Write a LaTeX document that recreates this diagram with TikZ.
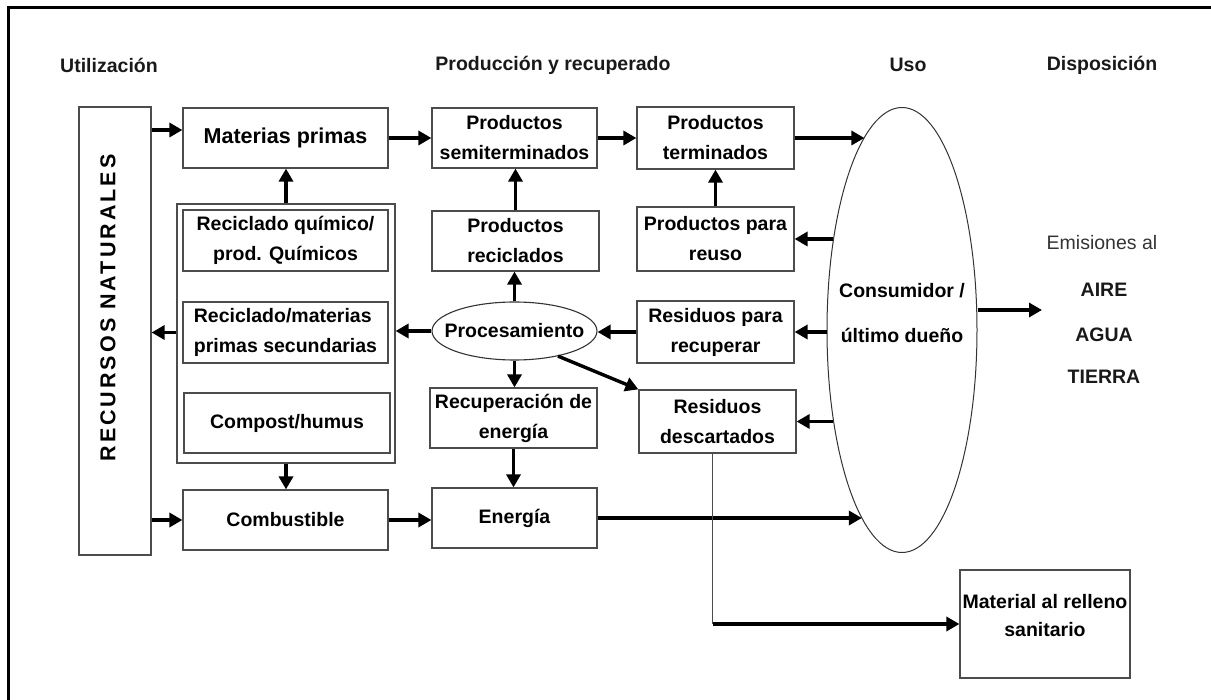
\documentclass[tikz,border=0pt]{standalone}
\usepackage{fontspec}
\setmainfont{Liberation Sans}
\newfontfamily\espaciada[LetterSpace=14]{Liberation Sans}
\usetikzlibrary{arrows.meta,shapes.geometric}

\begin{document}
\begin{tikzpicture}[x=1pt,y=-1pt,
    caja/.style={draw=black!70,line width=1.2pt,align=center,inner sep=1pt,
      font=\fontsize{19.5}{30}\selectfont\bfseries,text=black},
    titulo/.style={font=\fontsize{19.5}{24}\selectfont\bfseries,text=black!90},
    flecha/.style={line width=3.4pt,-{Triangle[length=13pt,width=14pt]}}]
    \useasboundingbox (0,0) rectangle (1211,700);
    \begin{scope}
        \clip (0,0) rectangle (1211,700);
        \draw[line width=3pt] (8,8) rectangle (1250,740);
    \end{scope}
    % titulos
    \node[titulo] (tutil) at (109,65) {Utilización};
    \node[titulo] (tprod) at (553,65) {Producción y recuperado};
    \node[titulo] (tuso) at (908,65) {Uso};
    \node[titulo] (tdisp) at (1102,65) {Disposición};
    % utilizacion
    \node[caja,minimum width=72pt,minimum height=448pt] (rn) at (115,331) {};
    \node[rotate=90,text=black,font=\espaciada\fontsize{21.5}{24}\selectfont\bfseries] (rntxt) at (108,308) {RECURSOS NATURALES};
    \node[caja,minimum width=205pt,minimum height=60pt,font=\fontsize{21.5}{30}\selectfont\bfseries] (mp) at (285.5,138) {Materias primas};
    \node[caja,minimum width=218pt,minimum height=259pt] (recbox) at (286,333.5) {};
    \node[caja,minimum width=205pt,minimum height=61pt] (rq) at (285.5,240.5) {Reciclado químico/\\prod. Químicos};
    \node[caja,minimum width=205pt,minimum height=61pt,align=left] (rm) at (285.5,332.5) {Reciclado/materias\\primas secundarias};
    \node[caja,minimum width=206pt,minimum height=60pt] (cp) at (287,423) {Compost/humus};
    \node[caja,minimum width=205pt,minimum height=60pt] (cb) at (285.5,520) {Combustible};
    % produccion y recuperado
    \node[caja,minimum width=165pt,minimum height=60pt] (ps) at (514.5,138) {Productos\\semiterminados};
    \node[caja,minimum width=157pt,minimum height=62pt] (pt) at (715.5,138) {Productos\\terminados};
    \node[caja,minimum width=167pt,minimum height=60pt] (prc) at (515.5,241) {Productos\\reciclados};
    \node[caja,minimum width=157pt,minimum height=64pt] (pr) at (715.5,239) {Productos para\\reuso};
    \node[ellipse,draw=black!80,line width=1.1pt,minimum width=165pt,minimum height=58pt,
        label={[font=\fontsize{19.5}{24}\selectfont\bfseries,text=black]center:Procesamiento}] (proc) at (514.5,331) {};
    \node[caja,minimum width=157pt,minimum height=62pt] (rr) at (715.5,332) {Residuos para\\recuperar};
    \node[caja,minimum width=167pt,minimum height=60pt] (re) at (513.5,418) {Recuperación de\\energía};
    \node[caja,minimum width=157pt,minimum height=63pt] (rd) at (717.5,421.5) {Residuos\\descartados};
    \node[caja,minimum width=165pt,minimum height=60pt] (en) at (514.5,518) {Energía};
    % uso y disposicion
    \node[ellipse,draw=black!80,line width=1pt,minimum width=150pt,minimum height=445pt,
        label={[yshift=17pt,align=center,font=\fontsize{19.5}{45}\selectfont\bfseries,text=black]center:Consumidor /\\último dueño}] (cons) at (902,330) {};
    \node[text=black!80,font=\fontsize{19.5}{24}\selectfont] (emi) at (1102,243) {Emisiones al};
    \node[titulo] (aire) at (1104,290) {AIRE};
    \node[titulo] (agua) at (1104,335) {AGUA};
    \node[titulo] (tierra) at (1104,377) {TIERRA};
    \coordinate (emifin) at (1042,310);
    \node[caja,minimum width=170pt,minimum height=108pt,
        label={[yshift=8pt,align=center,font=\fontsize{19.5}{28}\selectfont\bfseries,text=black]center:Material al relleno\\sanitario}] (mat) at (1045,624) {};
    % flechas
    \draw[flecha] ([yshift=8pt]mp.west -| rn.east) -- ([yshift=8pt]mp.west);
    \draw[flecha] (mp.east) -- (ps.west);
    \draw[flecha] (ps.east) -- (pt.west);
    \draw[flecha] (pt.east) -- (pt.east -| cons.101.6);
    \draw[flecha] (recbox.north) -- (recbox.north |- mp.south);
    \draw[flecha] (recbox.west |- rm.west) -- (rn.east |- rm.west);
    \draw[flecha] (recbox.south) -- (recbox.south |- cb.north);
    \draw[flecha] (rn.east |- cb.west) -- (cb.west);
    \draw[flecha] (cb.east) -- (cb.east -| en.west);
    \draw[flecha] (prc.north) -- (prc.north |- ps.south);
    \draw[flecha] (proc.north) -- (proc.north |- prc.south);
    \draw[flecha] (pr.north) -- (pt.south);
    \draw[flecha] (cons.127.3 |- pr.east) -- (pr.east);
    \draw[flecha] (rr.west) -- (rr.west -| proc.east);
    \draw[flecha] (cons.west |- rr.east) -- (rr.east);
    \draw[flecha] (proc.west) -- (recbox.east |- proc.west);
    \draw[flecha] (proc.south) -- (proc.south |- re.north);
    \draw[flecha] (proc.-30) -- (rd.north west);
    \draw[flecha] (re.south) -- (re.south |- en.north);
    \draw[flecha] (en.east) -- (en.east -| cons.258);
    \draw[flecha] (cons.232.7 |- rd.east) -- (rd.east);
    \draw[flecha] (cons.east |- emifin) -- (emifin);
    \coordinate (codo) at ([xshift=-5pt]rd.south |- mat.west);
    \draw[draw=black!70,line width=1.2pt] ([xshift=-5pt]rd.south) -- (codo);
    \draw[flecha] (codo) -- (mat.west);
\end{tikzpicture}
\end{document}
